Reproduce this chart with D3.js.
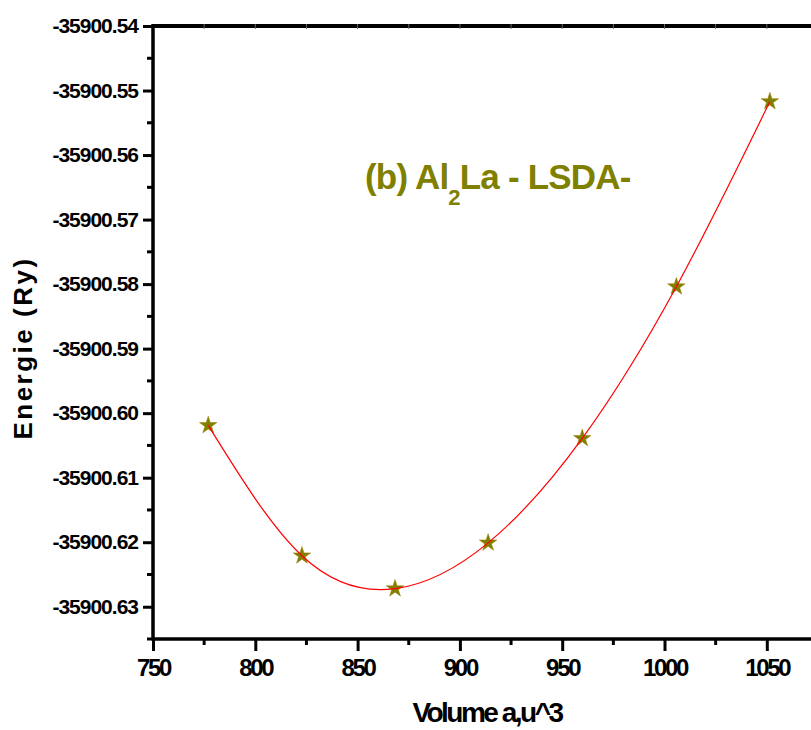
<!DOCTYPE html>
<html>
<head>
<meta charset="utf-8">
<script src="https://cdn.jsdelivr.net/npm/d3@7"></script>
<style>
  body { margin: 0; background: #fff; }
  text { font-family: "Liberation Sans", Arial, sans-serif; font-weight: bold; }
</style>
</head>
<body>
<div id="container"></div>
<script>
// data
let volumes = [777, 822.8, 868.3, 913.8, 959.8, 1005.8, 1051.5];
let energies = [-35900.6019, -35900.6221, -35900.6272, -35900.6201, -35900.6039, -35900.5804, -35900.5517];
let yTicks = [-35900.54, -35900.55, -35900.56, -35900.57, -35900.58, -35900.59, -35900.60, -35900.61, -35900.62, -35900.63];
let xTicks = [750, 800, 850, 900, 950, 1000, 1050];

let width = 811, height = 730;
let margin = {top: 26, left: 153, bottom: 639};

let svg = d3.select('#container').append("svg")
    .attr("width", width)
    .attr("height", height);

let xScale = d3.scaleLinear()
    .domain([750, 1075])
    .range([margin.left, margin.left + 325 * 2.046]);

let yScale = d3.scaleLinear()
    .domain([-35900.635, -35900.54])
    .range([margin.bottom, margin.top]);

// minor ticks
let xMinor = d3.range(775, 1075, 50);
let yMinor = d3.range(0, 10).map(i => -35900.545 - i * 0.01);

let yFmt = d => d.toFixed(2);

let xAxis = d3.axisBottom(xScale).tickValues(xTicks).tickSize(12).tickPadding(8).tickFormat(d3.format("d"));
let yAxis = d3.axisLeft(yScale).tickValues(yTicks).tickSize(10).tickPadding(5).tickFormat(yFmt);

let xg = svg.append("g").attr("transform", "translate(0," + margin.bottom + ")").call(xAxis);
xg.selectAll(".tick line").attr("stroke-width", 3);
xg.selectAll("text").attr("font-size", 24).style("letter-spacing", "-2.3px").attr("fill", "#000");
xg.select(".domain").remove();
xg.selectAll(".minor").data(xMinor).enter().append("line")
    .attr("x1", d => xScale(d)).attr("x2", d => xScale(d))
    .attr("y1", 0).attr("y2", 6)
    .attr("stroke", "#000").attr("stroke-width", 3);

let yg = svg.append("g").attr("transform", "translate(" + margin.left + ",0)").call(yAxis);
yg.selectAll(".tick line").attr("stroke-width", 3);
yg.selectAll("text").attr("font-size", 21).style("letter-spacing", "-1px").attr("fill", "#000");
yg.select(".domain").remove();
yg.selectAll(".minor").data(yMinor).enter().append("line")
    .attr("y1", d => yScale(d)).attr("y2", d => yScale(d))
    .attr("x1", 0).attr("x2", -6)
    .attr("stroke", "#000").attr("stroke-width", 3);

// frame lines
svg.append("line")
    .attr("x1", margin.left).attr("x2", width)
    .attr("y1", margin.bottom).attr("y2", margin.bottom)
    .attr("stroke", "#000").attr("stroke-width", 3.5);
svg.append("line")
    .attr("x1", margin.left).attr("x2", width)
    .attr("y1", margin.top).attr("y2", margin.top)
    .attr("stroke", "#000").attr("stroke-width", 4);
svg.append("line")
    .attr("x1", margin.left).attr("x2", margin.left)
    .attr("y1", margin.top - 2).attr("y2", margin.bottom + 1.5)
    .attr("stroke", "#000").attr("stroke-width", 3.5);

// small ticks on the top edge
svg.selectAll(".topTick").data(d3.range(775, 1075, 25)).enter().append("line")
    .attr("x1", d => xScale(d)).attr("x2", d => xScale(d))
    .attr("y1", margin.top - 2).attr("y2", margin.top + 3)
    .attr("stroke", "#666").attr("stroke-width", 1);

let pts = volumes.map((v, i) => [v, energies[i]]);

// stars first, the red fit is drawn over them
svg.selectAll(".star").data(pts).enter().append("path")
    .attr("d", d3.symbol().type(d3.symbolStar).size(95))
    .attr("transform", d => "translate(" + xScale(d[0]) + "," + yScale(d[1]) + ")")
    .attr("fill", "#808000")
    .attr("stroke", "#9a7a00")
    .attr("stroke-width", 0.5);

let line = d3.line()
    .x(d => xScale(d[0]))
    .y(d => yScale(d[1]))
    .curve(d3.curveNatural);

svg.append("path")
    .datum(pts)
    .attr("d", line)
    .attr("fill", "none")
    .attr("stroke", "#ff0000")
    .attr("stroke-width", 1.2);

// title
let title = svg.append("text")
    .attr("x", 365)
    .attr("y", 189)
    .attr("font-size", 35)
    .attr("fill", "#808000")
    .style("letter-spacing", "-0.8px");
title.append("tspan").text("(b) Al");
title.append("tspan").attr("font-size", 22).attr("dy", 16).text("2");
title.append("tspan").attr("dy", -16).text("La - LSDA-");

// axis labels
svg.append("text")
    .attr("transform", "translate(32,348) rotate(-90)")
    .attr("text-anchor", "middle")
    .attr("font-size", 26)
    .style("letter-spacing", "2.5px")
    .text("Energie (Ry)");

svg.append("text")
    .attr("x", 487)
    .attr("y", 722)
    .attr("text-anchor", "middle")
    .attr("font-size", 28)
    .style("letter-spacing", "-2.5px")
    .text("Volume a,u^3");
</script>
</body>
</html>
